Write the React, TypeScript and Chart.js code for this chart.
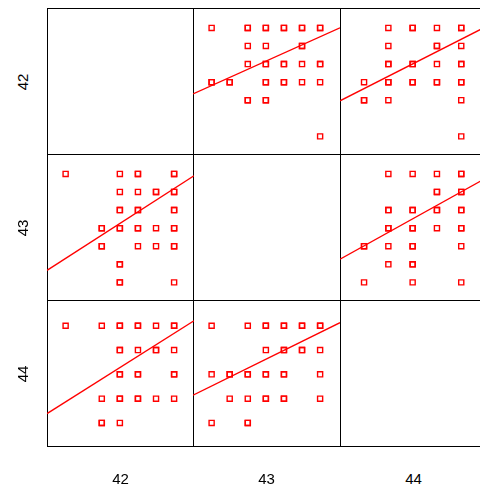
import React, { useEffect, useRef } from "react";
import { Chart, registerables } from "chart.js";

Chart.register(...registerables);

// variable names (shown outside the matrix)
const varNames = ["42", "43", "44"];

// unique (42, 43) pairs and how many observations sit on each
const abA = [0, 3, 4, 6, 3, 4, 5, 6, 3, 4, 6, 2, 3, 4, 5, 6, 2, 4, 5, 6, 3, 3, 6];
const abB = [6, 6, 6, 6, 5, 5, 5, 5, 4, 4, 4, 3, 3, 3, 3, 3, 2, 2, 2, 2, 1, 0, 0];
const abN = [1, 1, 2, 2, 1, 1, 2, 2, 2, 2, 2, 2, 2, 2, 1, 2, 2, 1, 1, 2, 2, 2, 1];

// unique (42, 44) pairs
const acA = [0, 2, 3, 4, 5, 6, 3, 4, 5, 6, 3, 4, 6, 2, 3, 4, 5, 6, 2, 3];
const acC = [4, 4, 4, 4, 4, 4, 3, 3, 3, 3, 2, 2, 2, 1, 1, 1, 1, 1, 0, 0];
const acN = [1, 1, 2, 2, 1, 2, 2, 1, 2, 1, 2, 2, 2, 1, 2, 2, 1, 1, 2, 1];

// unique (43, 44) pairs
const bcB = [0, 2, 3, 4, 5, 6, 3, 4, 5, 6, 0, 1, 2, 3, 4, 6, 1, 2, 3, 4, 6, 0, 2];
const bcC = [4, 4, 4, 4, 4, 4, 3, 3, 3, 3, 2, 2, 2, 2, 2, 2, 1, 1, 1, 1, 1, 0, 0];
const bcN = [1, 1, 2, 2, 2, 2, 1, 2, 2, 1, 1, 2, 2, 2, 2, 1, 1, 1, 2, 2, 1, 1, 2];

// fitted lines (y = intercept + slope * x) per off-diagonal panel
const fitRow = [0, 0, 1, 1, 2, 2];
const fitCol = [1, 2, 0, 2, 0, 1];
const fitIntercept = [2.81, 2.64, 1.33, 2.02, 0.87, 1.52];
const fitSlope = [0.45, 0.683, 0.643, 0.747, 0.47, 0.367];

// axis limits of each variable
const axisMin = [-1.03, -1.03, -0.99];
const axisMax = [7.1, 7.1, 5.06];

const COL_X = [47, 193, 340];
const ROW_Y = [8, 154, 300];
const CELL = 147;
const RED = "#ff0000";

function pairData(i: number, j: number): { a: number[]; b: number[]; n: number[] } {
  if (i === 0 && j === 1) return { a: abA, b: abB, n: abN };
  if (i === 0 && j === 2) return { a: acA, b: acC, n: acN };
  return { a: bcB, b: bcC, n: bcN };
}

function panelPoints(r: number, c: number) {
  const lo = Math.min(r, c);
  const hi = Math.max(r, c);
  const p = pairData(lo, hi);
  const pts: { x: number; y: number }[] = [];
  for (let k = 0; k < p.a.length; k++) {
    const x = c === lo ? p.a[k] : p.b[k];
    const y = r === lo ? p.a[k] : p.b[k];
    for (let m = 0; m < p.n[k]; m++) pts.push({ x, y });
  }
  return pts;
}

function Panel({ r, c }: { r: number; c: number }) {
  const ref = useRef<HTMLCanvasElement>(null);
  useEffect(() => {
    if (!ref.current) return;
    const fi = fitRow.findIndex((rr, k) => rr === r && fitCol[k] === c);
    const xMin = axisMin[c];
    const xMax = axisMax[c];
    const lineData = [
      { x: xMin, y: fitIntercept[fi] + fitSlope[fi] * xMin },
      { x: xMax, y: fitIntercept[fi] + fitSlope[fi] * xMax },
    ];
    const chart = new Chart(ref.current, {
      type: "scatter",
      data: {
        datasets: [
          {
            data: panelPoints(r, c),
            pointStyle: "rect",
            pointRadius: 3.6,
            pointBorderWidth: 1.4,
            borderColor: RED,
            backgroundColor: "rgba(0,0,0,0)",
            showLine: false,
          } as any,
          {
            data: lineData,
            showLine: true,
            pointRadius: 0,
            borderColor: RED,
            borderWidth: 1.4,
            fill: false,
          } as any,
        ],
      },
      options: {
        animation: false,
        responsive: false,
        devicePixelRatio: 1,
        events: [],
        layout: { padding: 0, autoPadding: false },
        plugins: { legend: { display: false }, tooltip: { enabled: false } },
        scales: {
          x: { type: "linear", min: axisMin[c], max: axisMax[c], display: false },
          y: { type: "linear", min: axisMin[r], max: axisMax[r], display: false },
        },
      } as any,
    });
    return () => chart.destroy();
  }, [r, c]);
  return (
    <canvas
      ref={ref}
      width={CELL}
      height={CELL}
      style={{ position: "absolute", left: COL_X[c], top: ROW_Y[r], width: CELL, height: CELL }}
    />
  );
}

export default function App() {
  const lines: React.ReactNode[] = [];
  const vx = [47, 193, 340, 486];
  const hy = [8, 154, 300, 446];
  vx.forEach((x, k) =>
    lines.push(
      <div key={"v" + k} style={{ position: "absolute", left: x, top: 8, width: 1, height: 439, background: "#000" }} />
    )
  );
  hy.forEach((y, k) =>
    lines.push(
      <div key={"h" + k} style={{ position: "absolute", left: 47, top: y, width: 440, height: 1, background: "#000" }} />
    )
  );
  const panels: React.ReactNode[] = [];
  for (let r = 0; r < 3; r++)
    for (let c = 0; c < 3; c++) if (r !== c) panels.push(<Panel key={r + "-" + c} r={r} c={c} />);

  const font = '15px "Liberation Sans", Arial, Helvetica, sans-serif';
  return (
    <div
      style={{
        position: "fixed",
        left: 0,
        top: 0,
        width: 480,
        height: 491,
        overflow: "hidden",
        background: "#fff",
      }}
    >
      {lines}
      {panels}
      {varNames.map((name, k) => (
        <div
          key={"bx" + k}
          style={{
            position: "absolute",
            left: COL_X[k] + 73.5,
            top: 478,
            transform: "translate(-50%, -50%)",
            font,
            color: "#000",
            whiteSpace: "nowrap",
          }}
        >
          {name}
        </div>
      ))}
      {varNames.map((name, k) => (
        <div
          key={"ly" + k}
          style={{
            position: "absolute",
            left: 22,
            top: ROW_Y[k] + 73.5,
            transform: "translate(-50%, -50%) rotate(-90deg)",
            font,
            color: "#000",
            whiteSpace: "nowrap",
          }}
        >
          {name}
        </div>
      ))}
    </div>
  );
}
